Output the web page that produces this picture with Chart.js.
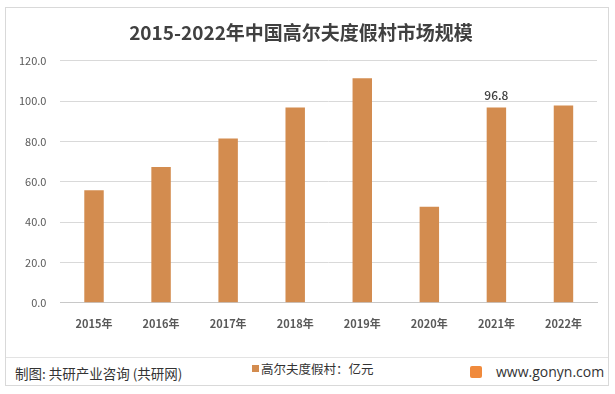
<!DOCTYPE html>
<html>
<head>
<meta charset="utf-8">
<script src="https://cdn.jsdelivr.net/npm/chart.js@4"></script>
<style>
    html, body { margin: 0; padding: 0; background: #fff; }
    body { width: 615px; height: 394px; position: relative; overflow: hidden;
           font-family: "Noto Sans CJK SC", "Noto Sans", sans-serif; }
    #frame { position: absolute; left: 5px; top: 7px; width: 604px; height: 379px;
             border: 1px solid #d9d9d9; box-sizing: border-box; }
    #chartBox { position: absolute; left: 5px; top: 8px; width: 604px; height: 328px; }
    #sep { position: absolute; left: 6px; top: 357px; width: 602px; height: 1px; background: #e3e3e3; }
    #credit { position: absolute; left: 15px; top: 363px; font-size: 13.5px; color: #333; }
    #legend { position: absolute; left: 252px; top: 359px; font-size: 12.5px; color: #333; }
    #legend i { display: inline-block; width: 7px; height: 7px; background: #d38c4f;
                margin-right: 2px; vertical-align: 2px; }
    #site { position: absolute; left: 470px; top: 362px; font-size: 14px; color: #333;
            font-family: "Open Sans", "Noto Sans", sans-serif; }
    #site b { display: inline-block; width: 12px; height: 12px; background: #f08a3c;
              border-radius: 2px; margin-right: 14px; vertical-align: -1px; }
</style>
</head>
<body>
<div id="frame"></div>
<div id="chartBox"><canvas id="myChart"></canvas></div>
<div id="sep"></div>
<div id="credit">制图: 共研产业咨询 (共研网)</div>
<div id="legend"><i></i>高尔夫度假村：亿元</div>
<div id="site"><b></b>www.gonyn.com</div>
<script>
const years = ['2015年', '2016年', '2017年', '2018年', '2019年', '2020年', '2021年', '2022年'];
const marketSize = [55.8, 67.3, 81.5, 96.9, 111.3, 47.6, 96.8, 97.8];
const labeledIndex = [6];
const yTicks = [0, 20, 40, 60, 80, 100, 120];

const barLabels = {
    id: 'barLabels',
    afterDatasetsDraw(chart) {
        const ctx = chart.ctx;
        const meta = chart.getDatasetMeta(0);
        ctx.save();
        ctx.font = '500 12px "Noto Sans CJK SC", sans-serif';
        ctx.fillStyle = '#404040';
        ctx.textAlign = 'center';
        ctx.textBaseline = 'bottom';
        labeledIndex.forEach(i => {
            const bar = meta.data[i];
            ctx.fillText(marketSize[i].toFixed(1), bar.x, bar.y - 6);
        });
        ctx.restore();
    }
};

const ctx = document.getElementById('myChart').getContext('2d');
new Chart(ctx, {
    type: 'bar',
    data: {
        labels: years,
        datasets: [{
            label: '高尔夫度假村：亿元',
            data: marketSize,
            backgroundColor: '#d38c4f',
            categoryPercentage: 1,
            barPercentage: 0.29
        }]
    },
    options: {
        responsive: true,
        maintainAspectRatio: false,
        animation: false,
        layout: { padding: { left: 0, right: 12, top: 0, bottom: 0 } },
        plugins: {
            legend: { display: false },
            tooltip: { enabled: false },
            title: {
                display: true,
                text: '2015-2022年中国高尔夫度假村市场规模',
                color: '#404040',
                font: { size: 19, weight: 'bold', family: '"Noto Sans CJK SC", sans-serif' },
                padding: { top: 13, bottom: 17 }
            }
        },
        scales: {
            x: {
                grid: { display: false },
                border: { color: '#c8c8c8' },
                ticks: {
                    color: '#595959',
                    font: { size: 11, weight: 'bold', family: '"Noto Sans CJK SC", sans-serif' },
                    padding: 6
                }
            },
            y: {
                min: 0,
                max: 120,
                afterBuildTicks: axis => { axis.ticks = yTicks.map(v => ({ value: v })); },
                grid: { color: '#d9d9d9', drawTicks: false },
                border: { display: false },
                ticks: {
                    color: '#595959',
                    font: { size: 11, family: '"Noto Sans CJK SC", sans-serif' },
                    padding: 14,
                    callback: v => v.toFixed(1)
                }
            }
        }
    },
    plugins: [barLabels]
});
</script>
</body>
</html>
